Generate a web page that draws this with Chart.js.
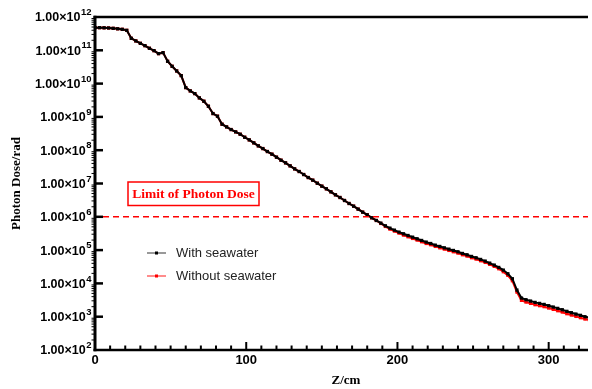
<!DOCTYPE html>
<html>
<head>
<meta charset="utf-8">
<script src="https://cdn.jsdelivr.net/npm/chart.js@4"></script>
<style>
  html, body { margin: 0; padding: 0; background: #fff; }
  #wrap { width: 592px; height: 389px; }
</style>
</head>
<body>
<div id="wrap"><canvas id="c" width="592" height="389"></canvas></div>
<script>
// Depth along the shield (cm)
const depthCm = [
  0, 3, 6, 9, 12, 15, 18, 21, 24, 27, 30, 33, 36, 39, 42, 45, 48, 51, 54, 57,
  60, 63, 66, 69, 72, 75, 78, 81, 84, 87, 90, 93, 96, 99, 102, 105, 108, 111, 114, 117,
  120, 123, 126, 129, 132, 135, 138, 141, 144, 147, 150, 153, 156, 159, 162, 165, 168, 171, 174, 177,
  180, 183, 186, 189, 192, 195, 198, 201, 204, 207, 210, 213, 216, 219, 222, 225, 228, 231, 234, 237,
  240, 243, 246, 249, 252, 255, 258, 261, 264, 267, 270, 273, 276, 279, 282, 285, 288, 291, 294, 297,
  300, 303, 306, 309, 312, 315, 318, 321, 324, 327
];

// Photon dose with seawater (rad)
const doseWithSeawater = [
  4.79e11, 4.79e11, 4.73e11, 4.68e11, 4.57e11, 4.42e11, 4.27e11, 3.98e11, 2.29e11, 1.91e11,
  1.62e11, 1.38e11, 1.15e11, 9.77e10, 7.94e10, 8.51e10, 4.68e10, 3.31e10, 2.40e10, 1.74e10,
  7.59e9, 6.03e9, 5.01e9, 3.72e9, 2.95e9, 2.09e9, 1.26e9, 1.05e9, 6.03e8, 5.01e8,
  4.17e8, 3.55e8, 3.02e8, 2.45e8, 2.04e8, 1.66e8, 1.35e8, 1.12e8, 9.12e7, 7.59e7,
  6.17e7, 5.01e7, 4.17e7, 3.39e7, 2.75e7, 2.29e7, 1.86e7, 1.51e7, 1.26e7, 1.02e7,
  8.32e6, 6.92e6, 5.62e6, 4.57e6, 3.80e6, 3.09e6, 2.51e6, 2.09e6, 1.70e6, 1.38e6,
  1.15e6, 9.33e5, 7.76e5, 6.46e5, 5.37e5, 4.57e5, 3.98e5, 3.47e5, 3.09e5, 2.75e5,
  2.45e5, 2.19e5, 1.95e5, 1.74e5, 1.58e5, 1.41e5, 1.29e5, 1.17e5, 1.07e5, 9.77e4,
  8.91e4, 7.94e4, 7.24e4, 6.46e4, 5.89e4, 5.25e4, 4.68e4, 4.07e4, 3.55e4, 3.02e4,
  2.51e4, 1.95e4, 1.38e4, 6.31e3, 3.63e3, 3.24e3, 2.95e3, 2.69e3, 2.51e3, 2.34e3,
  2.14e3, 1.95e3, 1.78e3, 1.62e3, 1.45e3, 1.32e3, 1.20e3, 1.10e3, 1.00e3, 9.33e2
];

// Photon dose without seawater (rad)
const doseWithoutSeawater = [
  4.79e11, 4.79e11, 4.73e11, 4.68e11, 4.57e11, 4.42e11, 4.27e11, 3.98e11, 2.29e11, 1.91e11,
  1.62e11, 1.38e11, 1.15e11, 9.77e10, 7.94e10, 8.51e10, 4.68e10, 3.31e10, 2.40e10, 1.74e10,
  7.59e9, 6.03e9, 5.01e9, 3.72e9, 2.95e9, 2.09e9, 1.26e9, 1.05e9, 6.03e8, 5.01e8,
  4.17e8, 3.55e8, 3.02e8, 2.45e8, 2.04e8, 1.66e8, 1.35e8, 1.12e8, 9.12e7, 7.59e7,
  6.17e7, 5.01e7, 4.17e7, 3.39e7, 2.75e7, 2.29e7, 1.86e7, 1.51e7, 1.26e7, 1.02e7,
  8.32e6, 6.92e6, 5.62e6, 4.57e6, 3.80e6, 3.09e6, 2.51e6, 2.09e6, 1.70e6, 1.38e6,
  1.15e6, 9.33e5, 7.76e5, 6.31e5, 5.13e5, 4.27e5, 3.72e5, 3.24e5, 2.82e5, 2.51e5,
  2.24e5, 2.00e5, 1.78e5, 1.58e5, 1.45e5, 1.29e5, 1.17e5, 1.07e5, 9.77e4, 8.91e4,
  8.13e4, 7.24e4, 6.61e4, 5.89e4, 5.37e4, 4.79e4, 4.27e4, 3.72e4, 3.24e4, 2.75e4,
  2.24e4, 1.74e4, 1.20e4, 5.50e3, 3.09e3, 2.75e3, 2.51e3, 2.29e3, 2.14e3, 2.00e3,
  1.82e3, 1.66e3, 1.51e3, 1.38e3, 1.23e3, 1.12e3, 1.02e3, 9.33e2, 8.51e2, 7.94e2
];

const seriesLabels = ['With seawater', 'Without seawater'];
const doseLimit = 1e6;
const limitLabel = 'Limit of Photon Dose';
const yDecades = [2, 3, 4, 5, 6, 7, 8, 9, 10, 11, 12];
const xTickLabels = [0, 100, 200, 300];
const xTitle = 'Z/cm';
const yTitle = 'Photon Dose/rad';

const toPoints = vals => depthCm.map((z, i) => ({ x: z, y: vals[i] }));

const frame = {
  id: 'frame',
  afterDraw(chart) {
    const { ctx, chartArea: a, scales: { x, y } } = chart;
    ctx.save();
    ctx.strokeStyle = '#000';
    ctx.fillStyle = '#000';
    ctx.lineCap = 'butt';

    // top border, left and bottom axes
    ctx.lineWidth = 2.5;
    ctx.beginPath();
    ctx.moveTo(a.left - 1.5, a.top); ctx.lineTo(a.right, a.top);
    ctx.moveTo(a.left - 1.5, a.bottom); ctx.lineTo(a.right, a.bottom);
    ctx.stroke();
    ctx.lineWidth = 3;
    ctx.beginPath();
    ctx.moveTo(a.left, a.top - 1.2); ctx.lineTo(a.left, a.bottom + 1.2);
    ctx.stroke();

    // y ticks: decades inward, minor log ticks outward
    yDecades.forEach(n => {
      const py = y.getPixelForValue(Math.pow(10, n));
      if (n > 2 && n < 12) {
        ctx.lineWidth = 2.5;
        ctx.beginPath();
        ctx.moveTo(a.left, py); ctx.lineTo(a.left + 8, py);
        ctx.stroke();
      }
      if (n < 12) {
        ctx.lineWidth = 1;
        for (let m = 2; m <= 9; m++) {
          const pm = y.getPixelForValue(m * Math.pow(10, n));
          ctx.beginPath();
          ctx.moveTo(a.left - 3.5, pm); ctx.lineTo(a.left - 1, pm);
          ctx.stroke();
        }
      }
      // label 1.00×10^n
      ctx.textBaseline = 'middle';
      ctx.textAlign = 'right';
      ctx.font = 'bold 9.5px "Liberation Sans", Arial, sans-serif';
      const sup = String(n);
      const supW = ctx.measureText(sup).width;
      const rightX = a.left - 3.5;
      ctx.fillText(sup, rightX, py - 4.5);
      ctx.font = 'bold 12.5px "Liberation Sans", Arial, sans-serif';
      ctx.fillText('1.00\u00d710', rightX - supW - 0.5, py + 1);
    });

    // x ticks: minor every 10, major every 100
    for (let v = 10; v <= x.max; v += 10) {
      const px = x.getPixelForValue(v);
      const major = v % 100 === 0;
      ctx.lineWidth = 2;
      ctx.beginPath();
      ctx.moveTo(px, a.bottom); ctx.lineTo(px, a.bottom - (major ? 8 : 4.5));
      ctx.stroke();
    }
    ctx.font = 'bold 13px "Liberation Sans", Arial, sans-serif';
    ctx.textAlign = 'center';
    ctx.textBaseline = 'top';
    xTickLabels.forEach(v => {
      ctx.fillText(String(v), x.getPixelForValue(v), a.bottom + 4);
    });

    // axis titles
    ctx.font = 'bold 13px "Liberation Serif", "Times New Roman", serif';
    ctx.textBaseline = 'middle';
    ctx.fillText(xTitle, 346, 381);
    ctx.save();
    ctx.translate(17, (a.top + a.bottom) / 2);
    ctx.rotate(-Math.PI / 2);
    ctx.fillText(yTitle, 0, 0);
    ctx.restore();

    ctx.restore();
  }
};

const limitLine = {
  id: 'limitLine',
  afterDatasetsDraw(chart) {
    const { ctx, chartArea: a, scales: { y } } = chart;
    const py = y.getPixelForValue(doseLimit);
    ctx.save();
    ctx.strokeStyle = '#ff0000';
    ctx.lineWidth = 1.5;
    ctx.setLineDash([6, 4]);
    ctx.beginPath();
    ctx.moveTo(a.left + 8, py); ctx.lineTo(a.right, py);
    ctx.stroke();
    ctx.setLineDash([]);

    // labelled box
    ctx.lineWidth = 1.5;
    ctx.strokeRect(128, 182, 131, 23.5);
    ctx.fillStyle = '#ff0000';
    ctx.font = 'bold 13.5px "Liberation Serif", "Times New Roman", serif';
    ctx.textAlign = 'center';
    ctx.textBaseline = 'middle';
    ctx.fillText(limitLabel, 193.5, 194.5);
    ctx.restore();
  }
};

const legendBox = {
  id: 'legendBox',
  afterDraw(chart) {
    const { ctx } = chart;
    const items = [
      { label: seriesLabels[0], line: '#777777', mark: '#000000', y: 253 },
      { label: seriesLabels[1], line: '#ff6666', mark: '#ff0000', y: 276 }
    ];
    ctx.save();
    items.forEach(it => {
      ctx.strokeStyle = it.line;
      ctx.lineWidth = 1.5;
      ctx.beginPath();
      ctx.moveTo(147, it.y); ctx.lineTo(166, it.y);
      ctx.stroke();
      ctx.fillStyle = it.mark;
      ctx.fillRect(155, it.y - 1.5, 3, 3);
      ctx.fillStyle = '#222';
      ctx.font = '13px "Liberation Sans", Arial, sans-serif';
      ctx.textAlign = 'left';
      ctx.textBaseline = 'middle';
      ctx.fillText(it.label, 176, it.y);
    });
    ctx.restore();
  }
};

new Chart(document.getElementById('c'), {
  type: 'line',
  data: {
    datasets: [
      {
        label: seriesLabels[0],
        data: toPoints(doseWithSeawater),
        borderColor: '#000000',
        backgroundColor: '#000000',
        borderWidth: 2,
        pointStyle: 'rect',
        pointRadius: 2.3,
        pointBorderWidth: 0,
        tension: 0
      },
      {
        label: seriesLabels[1],
        data: toPoints(doseWithoutSeawater),
        borderColor: '#ff0000',
        backgroundColor: '#ff0000',
        borderWidth: 2,
        pointStyle: 'rect',
        pointRadius: 2.3,
        pointBorderWidth: 0,
        tension: 0
      }
    ]
  },
  options: {
    responsive: false,
    animation: false,
    layout: { padding: { left: 95, top: 17, right: 0, bottom: 39 } },
    plugins: { legend: { display: false }, tooltip: { enabled: false } },
    scales: {
      x: { type: 'linear', min: 0, max: 326, display: false },
      y: { type: 'logarithmic', min: 1e2, max: 1e12, display: false }
    }
  },
  plugins: [limitLine, frame, legendBox]
});
</script>
</body>
</html>
